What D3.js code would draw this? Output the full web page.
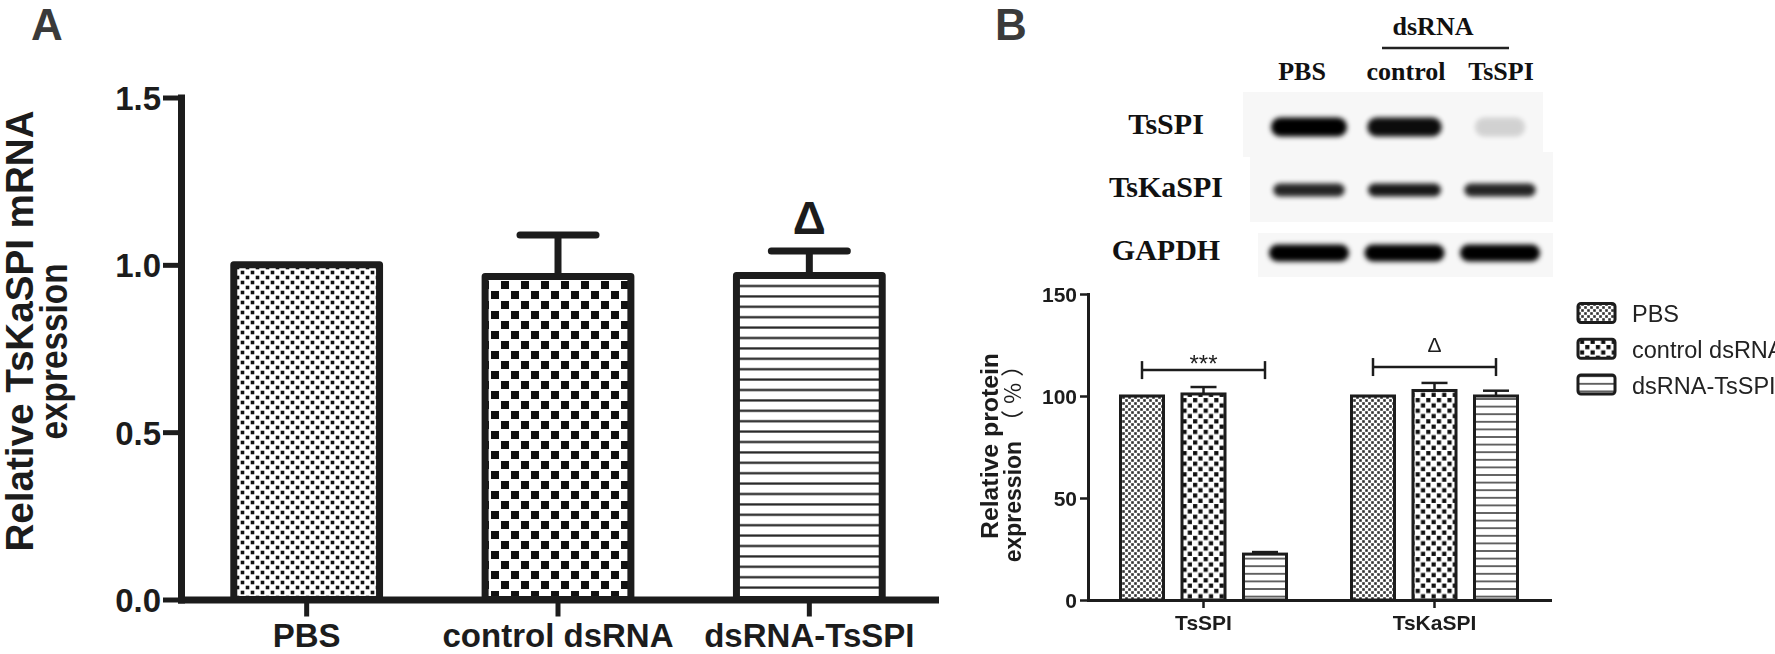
<!DOCTYPE html>
<html><head><meta charset="utf-8">
<script src="https://cdn.jsdelivr.net/npm/d3@7"></script>
<style>body{margin:0;background:#fff}svg{display:block}</style>
</head><body><svg id="c" width="1775" height="654"></svg>
<script>
// ---------- Panel A data ----------
const groupsA = ["PBS", "control dsRNA", "dsRNA-TsSPI"];
const meanA = [1.0, 0.965, 0.968];
const semA = [0, 0.124, 0.073];
const ticksA = [0, 0.5, 1.0, 1.5];
const sigA = ["", "", "Δ"];

// ---------- Panel B data ----------
const targetsB = ["TsSPI", "TsKaSPI"];
const seriesB = ["PBS", "control dsRNA", "dsRNA-TsSPI"];
const meanB_TsSPI = [100, 101, 22.5];
const semB_TsSPI = [0, 3.4, 1.0];
const meanB_TsKaSPI = [100, 102.7, 100];
const semB_TsKaSPI = [0, 3.7, 2.6];
const ticksB = [0, 50, 100, 150];
const sigB = ["***", "Δ"];
const sigLevelB = [112.7, 114.2];

// ---------- Western blot ----------
const blotLanes = ["PBS", "control", "TsSPI"];
const blotProteins = ["TsSPI", "TsKaSPI", "GAPDH"];
const bandTsSPI = [1.0, 0.95, 0.15];
const bandTsKaSPI = [0.85, 0.9, 0.85];
const bandGAPDH = [1.0, 1.0, 1.0];

const ink = "#1c1c1c";
const SANS = "'Liberation Sans', Arial, 'Noto Sans CJK SC', sans-serif";
const SERIF = "'Liberation Serif', 'Times New Roman', serif";

const svg = d3.select("#c");
const defs = svg.append("defs");

function checker(id, cell, sq, color) {
  const p = defs.append("pattern").attr("id", id).attr("patternUnits", "userSpaceOnUse")
    .attr("width", cell * 2).attr("height", cell * 2);
  p.append("rect").attr("width", cell * 2).attr("height", cell * 2).attr("fill", "#fff");
  const o = (cell - sq) / 2;
  p.append("rect").attr("x", o).attr("y", o).attr("width", sq).attr("height", sq).attr("fill", color);
  p.append("rect").attr("x", cell + o).attr("y", cell + o).attr("width", sq).attr("height", sq).attr("fill", color);
}
function hlines(id, period, th, color) {
  const p = defs.append("pattern").attr("id", id).attr("patternUnits", "userSpaceOnUse")
    .attr("width", 20).attr("height", period);
  p.append("rect").attr("width", 20).attr("height", period).attr("fill", "#fff");
  p.append("rect").attr("y", period / 2 - th / 2).attr("width", 20).attr("height", th).attr("fill", color);
}
checker("pA0", 5, 3.6, "#111");
checker("pA1", 10, 8, "#111");
hlines("pA2", 10.4, 2.2, "#222");
checker("pB0", 3, 2.6, "#333");
checker("pB1", 5.3, 4.2, "#111");
hlines("pB2", 7.6, 1.6, "#444");

const soft = defs.append("filter").attr("id", "soft");
soft.append("feGaussianBlur").attr("stdDeviation", 0.55);
const bandBlur = defs.append("filter").attr("id", "band")
  .attr("x", "-30%").attr("y", "-80%").attr("width", "160%").attr("height", "260%");
bandBlur.append("feGaussianBlur").attr("stdDeviation", 2.6);

// ================= Panel A =================
const gA = svg.append("g");
gA.append("text").attr("x", 31).attr("y", 39.5).text("A")
  .attr("font-family", SANS).attr("font-weight", "bold").attr("font-size", 44).attr("fill", "#3a3a3a");

const yA = d3.scaleLinear().domain([0, 1.5]).range([599.5, 97.5]);
const xA = d3.scaleBand().domain(groupsA).range([181, 935]).paddingInner(0.42).paddingOuter(0.21);

groupsA.forEach((g, i) => {
  if (semA[i] <= 0) return;
  const cx = xA(g) + xA.bandwidth() / 2;
  const top = yA(meanA[i] + semA[i]);
  gA.append("line").attr("x1", cx).attr("x2", cx).attr("y1", yA(meanA[i])).attr("y2", top)
    .attr("stroke", ink).attr("stroke-width", 7);
  gA.append("line").attr("x1", cx - 38).attr("x2", cx + 38).attr("y1", top).attr("y2", top)
    .attr("stroke", ink).attr("stroke-width", 7).attr("stroke-linecap", "round");
  if (sigA[i]) {
    gA.append("text").attr("x", cx).attr("y", top - 17).attr("text-anchor", "middle").text(sigA[i])
      .attr("font-family", SANS).attr("font-weight", "bold").attr("font-size", 46).attr("fill", ink);
  }
});
gA.selectAll("rect.bar").data(groupsA).join("rect").attr("class", "bar")
  .attr("x", d => xA(d)).attr("y", (d, i) => yA(meanA[i]))
  .attr("width", xA.bandwidth()).attr("height", (d, i) => yA(0) - yA(meanA[i]))
  .attr("fill", (d, i) => `url(#pA${i})`).attr("stroke", ink).attr("stroke-width", 7)
  .attr("stroke-linejoin", "round");

const axYA = gA.append("g").attr("transform", "translate(181,0)")
  .call(d3.axisLeft(yA).tickValues(ticksA).tickFormat(d3.format(".1f")).tickSize(18).tickSizeOuter(0).tickPadding(2));
const axXA = gA.append("g").attr("transform", "translate(0,599.5)")
  .call(d3.axisBottom(xA).tickSize(17).tickSizeOuter(0));
[axYA, axXA].forEach(a => {
  a.select(".domain").attr("stroke", ink).attr("stroke-width", 7).attr("stroke-linecap", "square");
  a.selectAll(".tick line").attr("stroke", ink).attr("stroke-width", 5);
  a.selectAll(".tick text").attr("fill", ink).attr("font-family", SANS).attr("font-weight", "bold").attr("font-size", 33);
});
axYA.selectAll(".tick text").attr("dy", "0.36em");
axXA.selectAll(".tick text").attr("y", 47.5).attr("dy", 0);

gA.append("text").attr("transform", "translate(33,331) rotate(-90)").attr("text-anchor", "middle")
  .attr("font-family", SANS).attr("font-weight", "bold").attr("font-size", 38).attr("fill", ink)
  .attr("textLength", 441).attr("lengthAdjust", "spacingAndGlyphs").text("Relative TsKaSPI mRNA");
gA.append("text").attr("transform", "translate(67,351.5) rotate(-90)").attr("text-anchor", "middle")
  .attr("font-family", SANS).attr("font-weight", "bold").attr("font-size", 38).attr("fill", ink)
  .attr("textLength", 176).attr("lengthAdjust", "spacingAndGlyphs").text("expression");

// ================= Panel B label + blot =================
svg.append("text").attr("x", 995).attr("y", 39.5).text("B")
  .attr("font-family", SANS).attr("font-weight", "bold").attr("font-size", 44).attr("fill", "#3a3a3a");

const gW = svg.append("g");
const laneX = d3.scalePoint().domain(blotLanes).range([1309, 1500]);
const rowY = d3.scalePoint().domain(blotProteins).range([127, 253]);
const bandVals = [bandTsSPI, bandTsKaSPI, bandGAPDH];
const bandW = [76, 76, 80], bandH = [19, 13, 17];
const boxes = [[1243, 92, 300, 65], [1250, 152, 303, 70], [1258, 233, 295, 44]];
boxes.forEach(b => gW.append("rect").attr("x", b[0]).attr("y", b[1]).attr("width", b[2]).attr("height", b[3]).attr("fill", "#f7f7f7"));
blotProteins.forEach((p, r) => {
  blotLanes.forEach((l, c) => {
    const v = bandVals[r][c];
    const w = bandW[r] * (0.6 + 0.4 * v);
    gW.append("rect").attr("x", laneX(l) - w / 2).attr("y", rowY(p) - bandH[r] / 2)
      .attr("width", w).attr("height", bandH[r]).attr("rx", bandH[r] / 2)
      .attr("fill", "#000").attr("opacity", v).attr("filter", "url(#band)");
  });
  gW.append("text").attr("x", 1166).attr("y", rowY(p) + 7).attr("text-anchor", "middle").text(p)
    .attr("font-family", SERIF).attr("font-weight", "bold").attr("font-size", 30).attr("fill", "#111");
});
const laneLabelX = [1302, 1406, 1501];
blotLanes.forEach((l, c) => {
  gW.append("text").attr("x", laneLabelX[c]).attr("y", 80).attr("text-anchor", "middle").text(l)
    .attr("font-family", SERIF).attr("font-weight", "bold").attr("font-size", 26).attr("fill", "#111");
});
gW.append("text").attr("x", 1433).attr("y", 35).attr("text-anchor", "middle").text("dsRNA")
  .attr("font-family", SERIF).attr("font-weight", "bold").attr("font-size", 26).attr("fill", "#111");
gW.append("line").attr("x1", 1382).attr("x2", 1509).attr("y1", 48).attr("y2", 48)
  .attr("stroke", "#222").attr("stroke-width", 2.5);

// ================= Panel B chart =================
const gB = svg.append("g").attr("filter", "url(#soft)");
const yB = d3.scaleLinear().domain([0, 150]).range([600, 294]);
const xB = d3.scaleBand().domain(targetsB).range([1088, 1550]);
const xBs = d3.scalePoint().domain(seriesB).range([-61.5, 61.5]);
const meansB = [meanB_TsSPI, meanB_TsKaSPI], semsB = [semB_TsSPI, semB_TsKaSPI];
const dataB = targetsB.flatMap((t, ti) => seriesB.map((s, si) => ({ t, s, si, v: meansB[ti][si], e: semsB[ti][si] })));
const bw = 43;
const cxB = d => xB(d.t) + xB.bandwidth() / 2 + xBs(d.s);

dataB.filter(d => d.e > 0).forEach(d => {
  const cx = cxB(d), top = yB(d.v + d.e);
  gB.append("line").attr("x1", cx).attr("x2", cx).attr("y1", yB(d.v)).attr("y2", top).attr("stroke", ink).attr("stroke-width", 2.5);
  gB.append("line").attr("x1", cx - 13).attr("x2", cx + 13).attr("y1", top).attr("y2", top).attr("stroke", ink).attr("stroke-width", 2.5);
});
gB.selectAll("rect.barB").data(dataB).join("rect").attr("class", "barB")
  .attr("x", d => cxB(d) - bw / 2).attr("y", d => yB(d.v)).attr("width", bw).attr("height", d => yB(0) - yB(d.v))
  .attr("fill", d => `url(#pB${d.si})`).attr("stroke", ink).attr("stroke-width", 3);

targetsB.forEach((t, ti) => {
  const c = xB(t) + xB.bandwidth() / 2;
  const x0 = c + xBs(seriesB[0]), x1 = c + xBs(seriesB[2]), y = yB(sigLevelB[ti]);
  gB.append("line").attr("x1", x0).attr("x2", x1).attr("y1", y).attr("y2", y).attr("stroke", ink).attr("stroke-width", 2.5);
  [x0, x1].forEach(x => gB.append("line").attr("x1", x).attr("x2", x).attr("y1", y - 9).attr("y2", y + 9).attr("stroke", ink).attr("stroke-width", 2.5));
  const isStar = sigB[ti] === "***";
  gB.append("text").attr("x", (x0 + x1) / 2).attr("y", isStar ? y + 2 : y - 15).attr("text-anchor", "middle").text(sigB[ti])
    .attr("font-family", SANS).attr("font-size", isStar ? 24 : 21).attr("fill", ink);
});

const axYB = gB.append("g").attr("transform", "translate(1088,0)")
  .call(d3.axisLeft(yB).tickValues(ticksB).tickSize(8).tickSizeOuter(0).tickPadding(3));
const axXB = gB.append("g").attr("transform", "translate(0,600)")
  .call(d3.axisBottom(xB).tickSize(8).tickSizeOuter(0));
[axYB, axXB].forEach(a => {
  a.select(".domain").attr("stroke", ink).attr("stroke-width", 3).attr("stroke-linecap", "square");
  a.selectAll(".tick line").attr("stroke", ink).attr("stroke-width", 2.5);
  a.selectAll(".tick text").attr("fill", ink).attr("font-family", SANS).attr("font-weight", "bold").attr("font-size", 21);
});
axYB.selectAll(".tick text").attr("dy", "0.36em");
axXB.selectAll(".tick text").attr("y", 30).attr("dy", 0);

gB.append("text").attr("transform", "translate(998,446) rotate(-90)").attr("text-anchor", "middle")
  .attr("font-family", SANS).attr("font-weight", "bold").attr("font-size", 23).attr("fill", ink)
  .attr("textLength", 186).attr("lengthAdjust", "spacingAndGlyphs").text("Relative protein");
const t2 = gB.append("text").attr("transform", "translate(1021,455) rotate(-90)").attr("text-anchor", "middle")
  .attr("font-family", SANS).attr("font-weight", "bold").attr("font-size", 23).attr("fill", ink);
t2.append("tspan").text("expression");
t2.append("tspan").attr("font-family", "'Noto Sans CJK SC', sans-serif").attr("font-weight", "normal")
  .attr("letter-spacing", 6).attr("dx", 8).text("（%）");

// legend
const legY = d3.scalePoint().domain(seriesB).range([313, 384.5]);
seriesB.forEach((s, i) => {
  gB.append("rect").attr("x", 1578).attr("y", legY(s) - 9.5).attr("width", 37).attr("height", 19).attr("rx", 3)
    .attr("fill", `url(#pB${i})`).attr("stroke", ink).attr("stroke-width", 3);
  gB.append("text").attr("x", 1632).attr("y", legY(s) + 9).text(s)
    .attr("font-family", SANS).attr("font-size", 23.5).attr("fill", "#222");
});
</script></body></html>
